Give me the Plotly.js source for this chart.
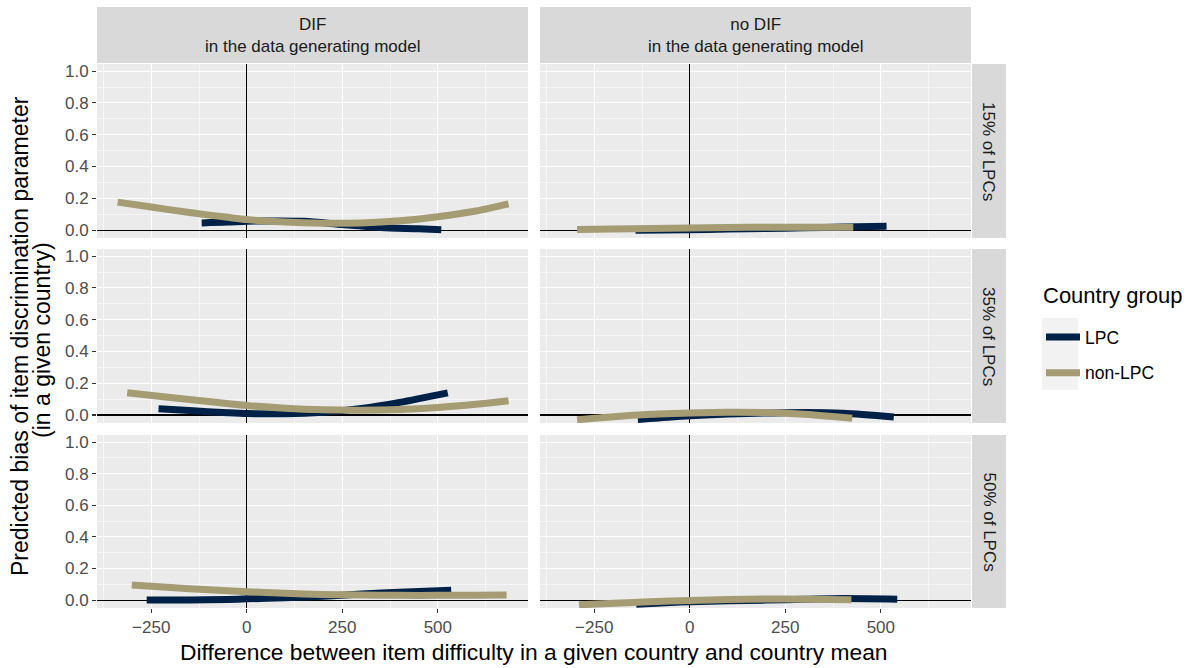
<!DOCTYPE html>
<html>
<head>
<meta charset="utf-8">
<script src="https://cdn.plot.ly/plotly-3.0.1.min.js"></script>
<style>html,body{margin:0;padding:0;background:#fff;}#chart{width:1200px;height:668px;}</style>
</head>
<body>
<div id="chart"></div>
<script>
// ---- data ----
const groups = ["LPC", "non-LPC"];
const colNames = ["DIF<br>in the data generating model", "no DIF<br>in the data generating model"];
const rowNames = ["15% of LPCs", "35% of LPCs", "50% of LPCs"];
const xTicks = [-250, 0, 250, 500];
const yTicks = [0, 0.2, 0.4, 0.6, 0.8, 1.0];

// DIF, 15% of LPCs
const xDif15Lpc = [-118, -50, 0, 75, 150, 250, 350, 450, 509];
const yDif15Lpc = [0.045, 0.05, 0.056, 0.057, 0.055, 0.035, 0.016, 0.008, 0.002];
const xDif15Non = [-338, -250, -150, -50, 0, 100, 200, 300, 400, 500, 600, 685];
const yDif15Non = [0.176, 0.145, 0.11, 0.08, 0.066, 0.05, 0.043, 0.045, 0.058, 0.084, 0.12, 0.165];
// no DIF, 15% of LPCs
const xNo15Lpc = [-142, 0, 100, 200, 300, 400, 515];
const yNo15Lpc = [-0.002, 0.002, 0.006, 0.01, 0.014, 0.019, 0.024];
const xNo15Non = [-295, -200, -100, 0, 100, 200, 300, 428];
const yNo15Non = [0.004, 0.007, 0.01, 0.013, 0.016, 0.018, 0.018, 0.018];

// DIF, 35% of LPCs
const xDif35Lpc = [-231, -150, -50, 0, 100, 200, 300, 400, 526];
const yDif35Lpc = [0.04, 0.028, 0.015, 0.01, 0.008, 0.018, 0.042, 0.08, 0.14];
const xDif35Non = [-313, -200, -100, 0, 100, 200, 300, 400, 500, 600, 685];
const yDif35Non = [0.14, 0.11, 0.085, 0.06, 0.043, 0.033, 0.03, 0.035, 0.048, 0.068, 0.09];
// no DIF, 35% of LPCs
const xNo35Lpc = [-136, -50, 0, 100, 250, 400, 534];
const yNo35Lpc = [-0.028, -0.012, -0.005, 0.006, 0.015, 0.012, -0.012];
const xNo35Non = [-295, -200, -100, 0, 100, 200, 300, 425];
const yNo35Non = [-0.03, -0.01, 0.005, 0.013, 0.018, 0.016, 0.005, -0.02];

// DIF, 50% of LPCs
const xDif50Lpc = [-262, -150, -50, 0, 100, 200, 300, 400, 535];
const yDif50Lpc = [0.0, 0.0, 0.004, 0.008, 0.015, 0.025, 0.038, 0.05, 0.062];
const xDif50Non = [-301, -200, -100, 0, 100, 200, 300, 400, 500, 600, 680];
const yDif50Non = [0.095, 0.08, 0.065, 0.053, 0.043, 0.036, 0.032, 0.03, 0.03, 0.031, 0.033];
// no DIF, 50% of LPCs
const xNo50Lpc = [-140, -50, 0, 100, 200, 300, 400, 543];
const yNo50Lpc = [-0.027, -0.015, -0.01, -0.004, 0.0, 0.005, 0.01, 0.006];
const xNo50Non = [-290, -150, -50, 0, 100, 200, 300, 423];
const yNo50Non = [-0.03, -0.015, -0.006, -0.002, 0.004, 0.007, 0.006, 0.003];

const panels = [
  [[xDif15Lpc, yDif15Lpc, xDif15Non, yDif15Non], [xNo15Lpc, yNo15Lpc, xNo15Non, yNo15Non]],
  [[xDif35Lpc, yDif35Lpc, xDif35Non, yDif35Non], [xNo35Lpc, yNo35Lpc, xNo35Non, yNo35Non]],
  [[xDif50Lpc, yDif50Lpc, xDif50Non, yDif50Non], [xNo50Lpc, yNo50Lpc, xNo50Non, yNo50Non]]
];

// ---- styling ----
const W = 1200, H = 668;
const colors = {"LPC": "#002147", "non-LPC": "#A59C74"};
const colPx = [[97, 528], [540, 971]];
const rowPx = [[64, 238], [249, 423], [435, 608]];
const FONT = "Liberation Sans, Arial, sans-serif";

const traces = [];
const layout = {
  width: W, height: H,
  margin: {l: 0, r: 0, t: 0, b: 0},
  paper_bgcolor: "#FFFFFF",
  plot_bgcolor: "#EBEBEB",
  font: {family: FONT, color: "#000"},
  showlegend: true,
  legend: {
    x: 1041 / W, xanchor: "left", y: 1 - 319 / H, yanchor: "top",
    bgcolor: "rgba(0,0,0,0)",
    font: {size: 17.5, color: "#000", family: FONT},
    itemwidth: 34,
    traceorder: "grouped", tracegroupgap: 10
  },
  shapes: [], annotations: []
};

for (let r = 0; r < 3; r++) {
  for (let c = 0; c < 2; c++) {
    const i = r * 2 + c + 1;
    const xa = "x" + (i === 1 ? "" : i), ya = "y" + (i === 1 ? "" : i);
    const xk = "xaxis" + (i === 1 ? "" : i), yk = "yaxis" + (i === 1 ? "" : i);
    const d = panels[r][c];
    [0, 1].forEach(g => {
      traces.push({
        type: "scatter", mode: "lines",
        x: d[g * 2], y: d[g * 2 + 1],
        xaxis: xa, yaxis: ya,
        name: groups[g], legendgroup: groups[g],
        showlegend: (i === 1),
        line: {color: colors[groups[g]], width: 7, shape: "spline", smoothing: 0.8},
        hoverinfo: "skip"
      });
    });
    const bottom = (r === 2), left = (c === 0);
    layout[xk] = {
      domain: [colPx[c][0] / W, colPx[c][1] / W],
      anchor: ya, range: [-392, 736],
      tickmode: "array", tickvals: xTicks,
      showgrid: true, gridcolor: "#FFFFFF", gridwidth: 1.1,
      minor: {tickmode: "linear", tick0: -375, dtick: 250, showgrid: true, gridcolor: "#FFFFFF", gridwidth: 0.55, ticks: ""},
      zeroline: true, zerolinecolor: "#000000", zerolinewidth: 1.1,
      showline: false,
      showticklabels: bottom,
      ticks: bottom ? "outside" : "", ticklen: 4, tickwidth: 1.1, tickcolor: "#333333",
      tickfont: {size: 17, color: "#4D4D4D", family: FONT},
      fixedrange: true
    };
    layout[yk] = {
      domain: [1 - rowPx[r][1] / H, 1 - rowPx[r][0] / H],
      anchor: xa, range: [-0.05, 1.045],
      tickmode: "array", tickvals: yTicks, tickformat: ".1f",
      showgrid: true, gridcolor: "#FFFFFF", gridwidth: 1.1,
      minor: {tickmode: "linear", tick0: 0.1, dtick: 0.2, showgrid: true, gridcolor: "#FFFFFF", gridwidth: 0.55, ticks: ""},
      zeroline: true, zerolinecolor: "#000000", zerolinewidth: 1.1,
      showline: false,
      showticklabels: left,
      ticks: left ? "outside" : "", ticklen: 4, tickwidth: 1.1, tickcolor: "#333333",
      tickfont: {size: 17, color: "#4D4D4D", family: FONT},
      fixedrange: true
    };
  }
}

// top strips
for (let c = 0; c < 2; c++) {
  layout.shapes.push({type: "rect", xref: "paper", yref: "paper", layer: "below",
    x0: colPx[c][0] / W, x1: colPx[c][1] / W, y0: 1 - 63 / H, y1: 1 - 7 / H,
    fillcolor: "#D9D9D9", line: {width: 0}});
  layout.annotations.push({xref: "paper", yref: "paper", showarrow: false,
    x: (colPx[c][0] + colPx[c][1]) / 2 / W, y: 1 - 35 / H, xanchor: "center", yanchor: "middle",
    text: colNames[c], font: {size: 17, color: "#1A1A1A", family: FONT}});
}
// right strips
for (let r = 0; r < 3; r++) {
  layout.shapes.push({type: "rect", xref: "paper", yref: "paper", layer: "below",
    x0: 972 / W, x1: 1006 / W, y0: 1 - rowPx[r][1] / H, y1: 1 - rowPx[r][0] / H,
    fillcolor: "#D9D9D9", line: {width: 0}});
  layout.annotations.push({xref: "paper", yref: "paper", showarrow: false,
    x: 989 / W, y: 1 - (rowPx[r][0] + rowPx[r][1]) / 2 / H, xanchor: "center", yanchor: "middle",
    textangle: 90, text: rowNames[r], font: {size: 17, color: "#1A1A1A", family: FONT}});
}
// legend key background
layout.shapes.push({type: "rect", xref: "paper", yref: "paper", layer: "below",
  x0: 1042 / W, x1: 1078 / W, y0: 1 - 390 / H, y1: 1 - 318 / H,
  fillcolor: "#F2F2F2", line: {width: 0}});
// legend title
layout.annotations.push({xref: "paper", yref: "paper", showarrow: false,
  x: 1041 / W, y: 1 - 296 / H, xanchor: "left", yanchor: "middle",
  text: "Country group", font: {size: 22, color: "#000", family: FONT}});

// axis titles
layout.annotations.push({xref: "paper", yref: "paper", showarrow: false,
  x: 534 / W, y: 1 - 652 / H, xanchor: "center", yanchor: "middle",
  text: "Difference between item difficulty in a given country and country mean",
  font: {size: 22.8, color: "#000", family: FONT}});
layout.annotations.push({xref: "paper", yref: "paper", showarrow: false,
  x: 20 / W, y: 1 - 336 / H, xanchor: "center", yanchor: "middle", textangle: -90,
  text: "Predicted bias of item discrimination parameter",
  font: {size: 23, color: "#000", family: FONT}});
layout.annotations.push({xref: "paper", yref: "paper", showarrow: false,
  x: 42 / W, y: 1 - 340 / H, xanchor: "center", yanchor: "middle", textangle: -90,
  text: "(in a given country)",
  font: {size: 23, color: "#000", family: FONT}});

Plotly.newPlot("chart", traces, layout, {displayModeBar: false, staticPlot: true});
</script>
</body>
</html>
